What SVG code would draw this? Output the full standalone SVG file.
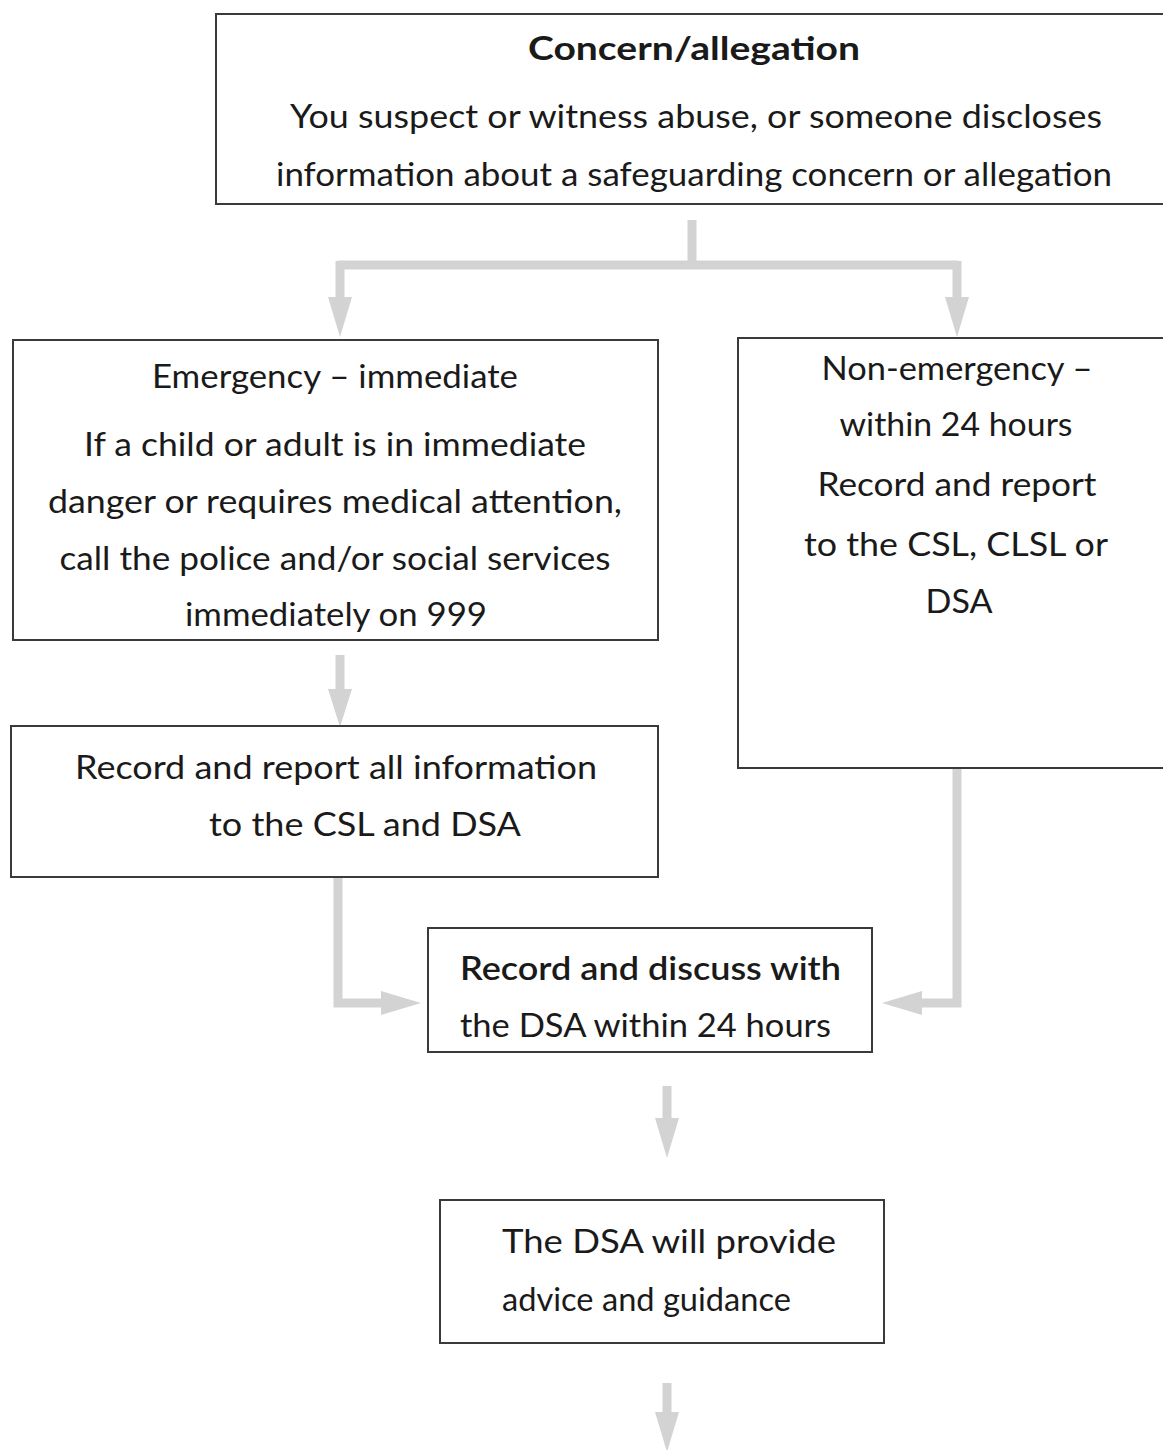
<svg xmlns="http://www.w3.org/2000/svg" width="1163" height="1450" viewBox="0 0 1163 1450">
<defs>
<style>
.box{fill:#fff;stroke:#3a3a3a;stroke-width:2}
.t{font-family:Lato,"Open Sans","Liberation Sans",sans-serif;font-size:32px;fill:#1a1a1a}
.c{text-anchor:middle}
.b{font-weight:bold}
.sb{font-weight:600}
.conn{fill:none;stroke:#d3d3d3;stroke-width:9}
.head{fill:#d3d3d3}
</style>
</defs>
<rect width="1163" height="1450" fill="#fff"/>
<g id="connectors">
<path class="conn" d="M692 220 V265 M338 265 H958 M340 261 V300 M957 261 V300"/>
<polygon class="head" points="328,297 352,297 340,337"/>
<polygon class="head" points="945,297 969,297 957,337"/>
<path class="conn" d="M340 655 V692"/>
<polygon class="head" points="328,689 352,689 340,727"/>
<path class="conn" d="M338 877 V1003 H385"/>
<polygon class="head" points="381,991 381,1015 421,1003"/>
<path class="conn" d="M957 768 V1003 H918"/>
<polygon class="head" points="922,991 922,1015 882,1003"/>
<path class="conn" d="M667 1086 V1122"/>
<polygon class="head" points="655,1118 679,1118 667,1158"/>
<path class="conn" d="M667 1383 V1420"/>
<polygon class="head" points="655,1412 679,1412 667,1452"/>
</g>
<g id="concern">
<rect class="box" x="216" y="14" width="960" height="190"/>
<text class="t c b" x="694" y="60" textLength="332" lengthAdjust="spacingAndGlyphs">Concern/allegation</text>
<text class="t c" x="696" y="128" textLength="812" lengthAdjust="spacingAndGlyphs">You suspect or witness abuse, or someone discloses</text>
<text class="t c" x="694" y="186" textLength="836" lengthAdjust="spacingAndGlyphs">information about a safeguarding concern or allegation</text>
</g>
<g id="emergency">
<rect class="box" x="13" y="340" width="645" height="300"/>
<text class="t c" x="335" y="388" textLength="366" lengthAdjust="spacingAndGlyphs">Emergency – immediate</text>
<text class="t c" x="335" y="456" textLength="502" lengthAdjust="spacingAndGlyphs">If a child or adult is in immediate</text>
<text class="t c" x="335" y="513" textLength="574" lengthAdjust="spacingAndGlyphs">danger or requires medical attention,</text>
<text class="t c" x="335" y="570" textLength="551" lengthAdjust="spacingAndGlyphs">call the police and/or social services</text>
<text class="t c" x="336" y="626" textLength="302" lengthAdjust="spacingAndGlyphs">immediately on 999</text>
</g>
<g id="nonemergency">
<rect class="box" x="738" y="338" width="440" height="430"/>
<text class="t c" x="957" y="380" textLength="271" lengthAdjust="spacingAndGlyphs">Non-emergency –</text>
<text class="t c" x="956" y="436" textLength="233" lengthAdjust="spacingAndGlyphs">within 24 hours</text>
<text class="t c" x="957" y="496" textLength="279" lengthAdjust="spacingAndGlyphs">Record and report</text>
<text class="t c" x="956" y="556" textLength="304" lengthAdjust="spacingAndGlyphs">to the CSL, CLSL or</text>
<text class="t c" x="959" y="613" textLength="67" lengthAdjust="spacingAndGlyphs">DSA</text>
</g>
<g id="record">
<rect class="box" x="11" y="726" width="647" height="151"/>
<text class="t c" x="336" y="779" textLength="522" lengthAdjust="spacingAndGlyphs">Record and report all information</text>
<text class="t c" x="365" y="836" textLength="312" lengthAdjust="spacingAndGlyphs">to the CSL and DSA</text>
</g>
<g id="discuss">
<rect class="box" x="428" y="928" width="444" height="124"/>
<text class="t sb" x="460" y="980" textLength="381" lengthAdjust="spacingAndGlyphs">Record and discuss with</text>
<text class="t" x="460" y="1037" textLength="371" lengthAdjust="spacingAndGlyphs">the DSA within 24 hours</text>
</g>
<g id="advice">
<rect class="box" x="440" y="1200" width="444" height="143"/>
<text class="t" x="502" y="1253" textLength="334" lengthAdjust="spacingAndGlyphs">The DSA will provide</text>
<text class="t" x="502" y="1311" textLength="289" lengthAdjust="spacingAndGlyphs">advice and guidance</text>
</g>
</svg>
